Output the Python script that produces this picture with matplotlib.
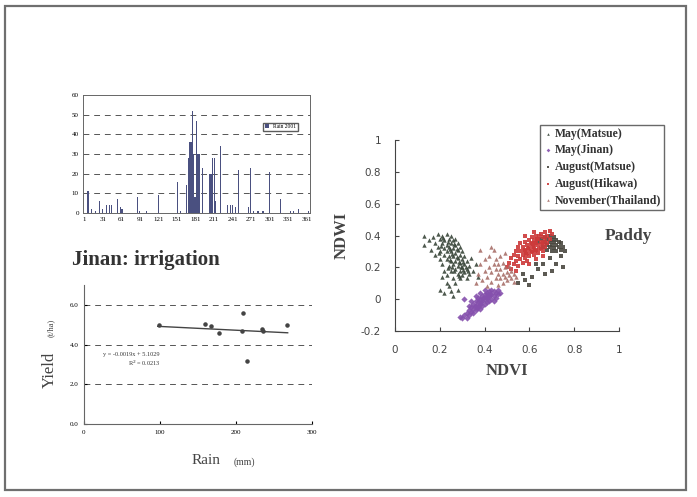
import matplotlib.pyplot as plt
from matplotlib.patches import Rectangle

plt.rcParams['font.family'] = ['Liberation Serif', 'DejaVu Serif']

# --- daily rain, Jinan 2001 (day of year, mm) ---
rain_day = [7, 8, 13, 19, 25, 31, 37, 42, 45, 55, 59, 62, 87, 91, 102, 121, 152, 157,
            167, 169, 171, 172, 174, 176, 178, 180, 183, 185, 187, 192, 204, 206, 209,
            211, 213, 222, 233, 237, 240, 245, 250, 251, 266, 270, 274, 282, 290, 301,
            319, 334, 339, 348, 363]
rain_mm = [11, 8, 2, 1, 6, 2, 4, 4, 4, 7, 3, 2, 8, 1, 1, 9, 16, 1,
           14, 28, 28, 36, 36, 52, 30, 8, 47, 30, 30, 23, 20, 20, 28,
           28, 6, 34, 4, 4, 4, 3, 22, 8, 3, 23, 1, 1, 1, 21,
           7, 1, 1, 2, 1]
day_ticks = [1, 31, 61, 91, 121, 151, 181, 211, 241, 271, 301, 331, 361]

# --- yield vs rain ---
rain_x = [99, 159, 167, 178, 209, 208, 215, 234, 235, 267]
yield_y = [5.01, 5.03, 4.93, 4.56, 5.60, 4.68, 3.19, 4.78, 4.68, 5.01]
fit_slope = -0.0019
fit_icpt = 5.1029

# --- NDVI / NDWI clusters ---
may_matsue = [(0.13, 0.40), (0.13, 0.34), (0.15, 0.37), (0.16, 0.31), (0.17, 0.39), (0.18, 0.35),
              (0.18, 0.28), (0.19, 0.41), (0.19, 0.33), (0.20, 0.38), (0.20, 0.30), (0.20, 0.25),
              (0.21, 0.40), (0.21, 0.35), (0.21, 0.22), (0.22, 0.37), (0.22, 0.32), (0.22, 0.28),
              (0.22, 0.18), (0.23, 0.41), (0.23, 0.34), (0.23, 0.30), (0.23, 0.25), (0.23, 0.15),
              (0.24, 0.38), (0.24, 0.33), (0.24, 0.27), (0.24, 0.21), (0.24, 0.08), (0.25, 0.40),
              (0.25, 0.35), (0.25, 0.30), (0.25, 0.24), (0.25, 0.18), (0.25, 0.05), (0.26, 0.37),
              (0.26, 0.32), (0.26, 0.27), (0.26, 0.22), (0.26, 0.13), (0.26, 0.02), (0.27, 0.38),
              (0.27, 0.34), (0.27, 0.29), (0.27, 0.24), (0.27, 0.19), (0.27, 0.10), (0.28, 0.35),
              (0.28, 0.31), (0.28, 0.26), (0.28, 0.21), (0.28, 0.16), (0.28, 0.06), (0.29, 0.33),
              (0.29, 0.28), (0.29, 0.23), (0.29, 0.18), (0.29, 0.13), (0.30, 0.30), (0.30, 0.25),
              (0.30, 0.20), (0.30, 0.15), (0.31, 0.27), (0.31, 0.22), (0.31, 0.17), (0.32, 0.24),
              (0.32, 0.19), (0.32, 0.13), (0.33, 0.21), (0.33, 0.16), (0.34, 0.26), (0.35, 0.18),
              (0.36, 0.22), (0.37, 0.14), (0.21, 0.14), (0.23, 0.10), (0.20, 0.06), (0.22, 0.04),
              (0.215, 0.385), (0.235, 0.36), (0.245, 0.315), (0.255, 0.285), (0.265, 0.345),
              (0.275, 0.265), (0.285, 0.235), (0.295, 0.205), (0.305, 0.185), (0.315, 0.205),
              (0.255, 0.205), (0.265, 0.175), (0.285, 0.145), (0.305, 0.235), (0.325, 0.175),
              (0.205, 0.335), (0.195, 0.29), (0.235, 0.195), (0.245, 0.245), (0.275, 0.315)]
may_jinan = [(0.29, -0.11), (0.30, -0.12), (0.31, -0.10), (0.32, -0.09), (0.32, -0.12), (0.33, -0.07),
             (0.33, -0.10), (0.34, -0.05), (0.34, -0.08), (0.35, -0.06), (0.35, -0.09), (0.35, -0.03),
             (0.36, -0.04), (0.36, -0.07), (0.36, -0.01), (0.37, -0.05), (0.37, -0.02), (0.37, 0.01),
             (0.38, -0.03), (0.38, 0.00), (0.38, -0.06), (0.39, -0.01), (0.39, 0.02), (0.39, -0.04),
             (0.40, 0.00), (0.40, 0.03), (0.40, -0.03), (0.41, 0.01), (0.41, 0.04), (0.41, -0.02),
             (0.42, 0.02), (0.42, 0.05), (0.42, -0.01), (0.43, 0.03), (0.43, 0.00), (0.43, 0.06),
             (0.44, 0.02), (0.44, 0.05), (0.44, -0.01), (0.45, 0.04), (0.45, 0.01), (0.46, 0.03),
             (0.46, 0.06), (0.47, 0.04), (0.34, -0.01), (0.36, 0.02), (0.38, 0.04), (0.31, 0.00),
             (0.40, 0.06), (0.33, -0.04), (0.375, -0.035), (0.385, -0.015), (0.395, 0.005),
             (0.405, 0.015), (0.415, 0.025), (0.425, 0.035), (0.365, -0.055), (0.355, -0.045)]
aug_matsue = [(0.64, 0.36), (0.65, 0.38), (0.66, 0.33), (0.67, 0.36), (0.67, 0.39), (0.68, 0.31),
              (0.68, 0.34), (0.68, 0.38), (0.69, 0.33), (0.69, 0.36), (0.69, 0.40), (0.70, 0.30),
              (0.70, 0.34), (0.70, 0.37), (0.71, 0.32), (0.71, 0.36), (0.71, 0.39), (0.72, 0.30),
              (0.72, 0.34), (0.72, 0.37), (0.73, 0.33), (0.73, 0.36), (0.74, 0.31), (0.74, 0.35),
              (0.75, 0.33), (0.76, 0.30), (0.74, 0.27), (0.72, 0.22), (0.75, 0.20), (0.70, 0.18),
              (0.67, 0.16), (0.64, 0.19), (0.61, 0.14), (0.58, 0.12), (0.55, 0.10), (0.60, 0.09),
              (0.66, 0.22), (0.69, 0.26), (0.63, 0.22), (0.57, 0.16)]
aug_hikawa = [(0.50, 0.20), (0.51, 0.23), (0.52, 0.19), (0.52, 0.26), (0.53, 0.22), (0.53, 0.28),
              (0.54, 0.24), (0.54, 0.30), (0.55, 0.21), (0.55, 0.27), (0.55, 0.33), (0.56, 0.25),
              (0.56, 0.30), (0.57, 0.28), (0.57, 0.33), (0.57, 0.23), (0.58, 0.26), (0.58, 0.31),
              (0.58, 0.36), (0.59, 0.29), (0.59, 0.34), (0.59, 0.24), (0.60, 0.32), (0.60, 0.37),
              (0.60, 0.27), (0.61, 0.30), (0.61, 0.35), (0.61, 0.39), (0.62, 0.28), (0.62, 0.33),
              (0.62, 0.37), (0.63, 0.31), (0.63, 0.35), (0.63, 0.40), (0.64, 0.29), (0.64, 0.34),
              (0.64, 0.38), (0.65, 0.32), (0.65, 0.36), (0.65, 0.41), (0.66, 0.30), (0.66, 0.35),
              (0.66, 0.39), (0.67, 0.33), (0.67, 0.37), (0.67, 0.42), (0.68, 0.35), (0.68, 0.40),
              (0.69, 0.38), (0.69, 0.43), (0.70, 0.41), (0.60, 0.22), (0.63, 0.25), (0.56, 0.35),
              (0.58, 0.40), (0.62, 0.42), (0.54, 0.18), (0.66, 0.27), (0.605, 0.345), (0.615, 0.325),
              (0.625, 0.355), (0.635, 0.375), (0.645, 0.315), (0.655, 0.345), (0.595, 0.315),
              (0.585, 0.285), (0.575, 0.305), (0.645, 0.395), (0.625, 0.305), (0.605, 0.295)]
nov_thailand = [(0.36, 0.10), (0.37, 0.16), (0.38, 0.22), (0.39, 0.12), (0.40, 0.18), (0.40, 0.25),
                (0.41, 0.08), (0.41, 0.14), (0.42, 0.20), (0.42, 0.27), (0.43, 0.11), (0.43, 0.17),
                (0.44, 0.22), (0.44, 0.31), (0.45, 0.13), (0.45, 0.19), (0.45, 0.25), (0.46, 0.09),
                (0.46, 0.16), (0.46, 0.22), (0.47, 0.13), (0.47, 0.19), (0.47, 0.27), (0.48, 0.10),
                (0.48, 0.16), (0.48, 0.23), (0.49, 0.14), (0.49, 0.20), (0.49, 0.29), (0.50, 0.12),
                (0.50, 0.17), (0.51, 0.15), (0.51, 0.21), (0.52, 0.13), (0.52, 0.18), (0.53, 0.16),
                (0.54, 0.14), (0.38, 0.31), (0.43, 0.33), (0.53, 0.11)]

W, H = 697, 497
fig = plt.figure(figsize=(W / 100, H / 100), dpi=100)
fig.patch.set_facecolor('white')


def box(l, t, r, b):
    return [l / W, 1 - b / H, (r - l) / W, (b - t) / H]


# outer frame
fig.patches.append(Rectangle((5 / W, 1 - 490 / H), 681 / W, 484 / H, transform=fig.transFigure,
                             fill=False, edgecolor='#6f6f6f', linewidth=1.6))

# ---- rain bar chart ----
ax1 = fig.add_axes(box(83, 95, 310, 213))
ax1.bar(rain_day, rain_mm, width=1.8, color='#4a5080', label='Rain 2001')
ax1.set_xlim(-1, 366)
ax1.set_ylim(0, 60)
ax1.set_yticks(range(0, 61, 10))
ax1.set_xticks(day_ticks)
for yv in range(10, 60, 10):
    ax1.axhline(yv, color='#555555', linestyle=(0, (6, 5)), linewidth=0.7, zorder=0)
ax1.tick_params(labelsize=5, length=0, pad=3)
for s in ax1.spines.values():
    s.set_color('#666666')
    s.set_linewidth(0.7)
leg1 = ax1.legend(loc='upper right', bbox_to_anchor=(0.96, 0.79), fontsize=4, frameon=True,
                  fancybox=False, edgecolor='#333333', handlelength=0.8, borderpad=0.3)

fig.text(72 / W, 1 - 260 / H, 'Jinan: irrigation', fontsize=15, fontweight='bold',
         color='#333333', va='center')

# ---- yield vs rain ----
ax2 = fig.add_axes(box(84, 285, 312, 424))
ax2.scatter(rain_x, yield_y, s=5, color='#444444', zorder=3)
fx = [min(rain_x) - 2, max(rain_x) + 1]
ax2.plot(fx, [fit_slope * v + fit_icpt for v in fx], color='#444444', linewidth=1.0)
ax2.set_xlim(0, 300)
ax2.set_ylim(0, 7)
ax2.set_xticks([0, 100, 200, 300])
ax2.set_yticks([0, 2, 4, 6])
ax2.set_yticklabels(['0.0', '2.0', '4.0', '6.0'])
for yv in [2, 4, 6]:
    ax2.axhline(yv, color='#555555', linestyle=(0, (6, 5)), linewidth=0.7, zorder=0)
ax2.spines['top'].set_visible(False)
ax2.spines['right'].set_visible(False)
ax2.spines['left'].set_color('#666666')
ax2.spines['bottom'].set_color('#666666')
ax2.tick_params(labelsize=5, length=2, direction='in', pad=4)
ax2.text(62, 3.5, 'y = %.4fx + %.4f' % (fit_slope, fit_icpt), fontsize=4.5, color='#333333',
         ha='center', va='center')
ax2.text(80, 3.05, 'R$^2$ = 0.0213', fontsize=4.5, color='#333333', ha='center', va='center')
fig.text(50 / W, 1 - 370 / H, 'Yield', rotation=90, fontsize=12, color='#444444',
         ha='center', va='center')
fig.text(51 / W, 1 - 328 / H, '(t/ha)', rotation=90, fontsize=6, color='#444444',
         ha='center', va='center')
fig.text(206 / W, 1 - 460 / H, 'Rain', fontsize=11, color='#444444', ha='center', va='center')
fig.text(244 / W, 1 - 462 / H, '(mm)', fontsize=7, color='#444444', ha='center', va='center')

# ---- NDVI / NDWI scatter ----
ax3 = fig.add_axes(box(395, 140, 619, 331))
groups = [
    ('May(Matsue)', may_matsue, '#39463a', '^'),
    ('May(Jinan)', may_jinan, '#8550ad', 'D'),
    ('August(Matsue)', aug_matsue, '#4a4840', 's'),
    ('August(Hikawa)', aug_hikawa, '#cc3a3a', 's'),
    ('November(Thailand)', nov_thailand, '#a8706a', '^'),
]
for name, pts, col, mk in groups:
    ax3.scatter([p[0] for p in pts], [p[1] for p in pts], s=10, marker=mk, color=col,
                linewidths=0, alpha=0.9, label=name)
ax3.set_xlim(0, 1)
ax3.set_ylim(-0.2, 1)
ax3.set_xticks([0, 0.2, 0.4, 0.6, 0.8, 1])
ax3.set_xticklabels(['0', '0.2', '0.4', '0.6', '0.8', '1'])
ax3.set_yticks([-0.2, 0, 0.2, 0.4, 0.6, 0.8, 1])
ax3.set_yticklabels(['-0.2', '0', '0.2', '0.4', '0.6', '0.8', '1'])
ax3.spines['top'].set_visible(False)
ax3.spines['right'].set_visible(False)
ax3.spines['left'].set_color('#444444')
ax3.spines['bottom'].set_color('#444444')
ax3.tick_params(labelsize=7.5, direction='in', length=3, pad=10, colors='#444444')
for lab in ax3.get_xticklabels() + ax3.get_yticklabels():
    lab.set_fontfamily('DejaVu Sans')
ax3.set_xlabel('NDVI', fontsize=12, fontweight='bold', color='#444444', labelpad=6)
ax3.set_ylabel('NDWI', fontsize=12, fontweight='bold', color='#444444', labelpad=8)
leg3 = ax3.legend(loc='upper left', bbox_to_anchor=((540 - 395) / 224, 1.08), fontsize=8.5,
                  frameon=True, fancybox=False, edgecolor='#444444', handletextpad=0.2,
                  borderpad=0.25, labelspacing=0.4, markerscale=0.6, handlelength=0.8,
                  borderaxespad=0)
for t in leg3.get_texts():
    t.set_fontweight('bold')
    t.set_color('#333333')
ax3.text(1.04, 0.40, 'Paddy', fontsize=12.5, fontweight='bold', color='#444444',
         ha='center', va='center')

fig.savefig('out.png', dpi=100)
